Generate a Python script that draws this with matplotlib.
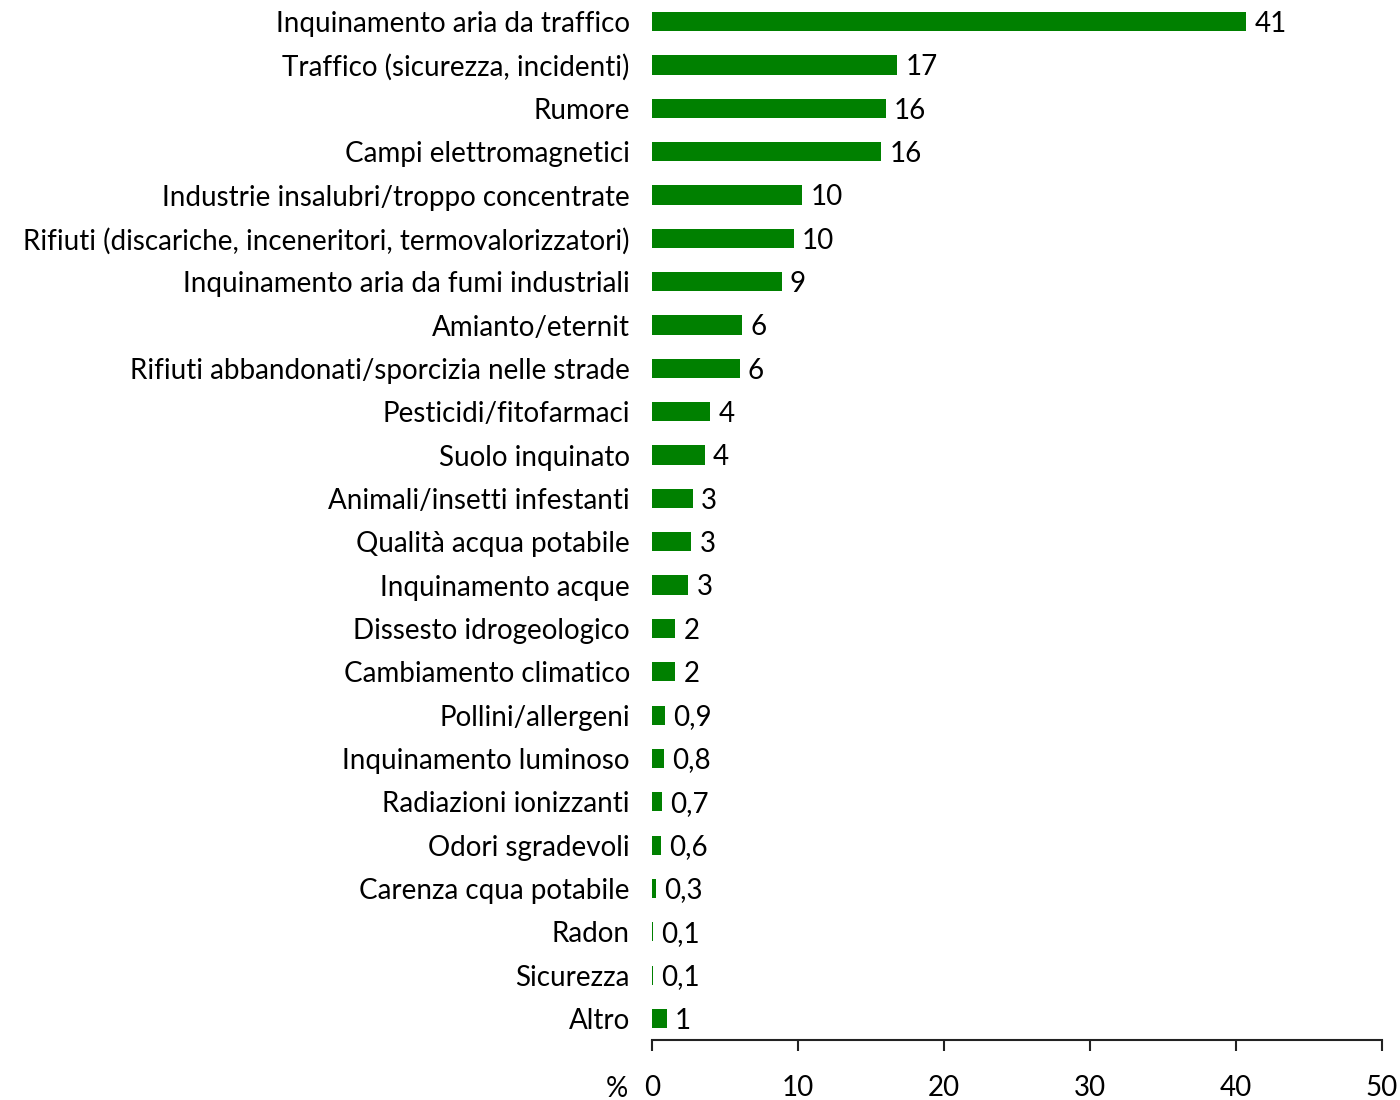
import matplotlib.pyplot as plt

categories = [
    "Inquinamento aria da traffico",
    "Traffico (sicurezza, incidenti)",
    "Rumore",
    "Campi elettromagnetici",
    "Industrie insalubri/troppo concentrate",
    "Rifiuti (discariche, inceneritori, termovalorizzatori)",
    "Inquinamento aria da fumi industriali",
    "Amianto/eternit",
    "Rifiuti abbandonati/sporcizia nelle strade",
    "Pesticidi/fitofarmaci",
    "Suolo inquinato",
    "Animali/insetti infestanti",
    "Qualità acqua potabile",
    "Inquinamento acque",
    "Dissesto idrogeologico",
    "Cambiamento climatico",
    "Pollini/allergeni",
    "Inquinamento luminoso",
    "Radiazioni ionizzanti",
    "Odori sgradevoli",
    "Carenza cqua potabile",
    "Radon",
    "Sicurezza",
    "Altro",
]
values = [40.7, 16.8, 16.0, 15.7, 10.3, 9.7, 8.9, 6.2, 6.0, 4.0, 3.6, 2.8,
          2.7, 2.5, 1.6, 1.6, 0.9, 0.8, 0.7, 0.6, 0.3, 0.1, 0.1, 1.0]
value_labels = ["41", "17", "16", "16", "10", "10", "9", "6", "6", "4", "4", "3",
                "3", "3", "2", "2", "0,9", "0,8", "0,7", "0,6", "0,3", "0,1", "0,1", "1"]
xticks = [0, 10, 20, 30, 40, 50]

plt.rcParams["font.family"] = ["Lato", "DejaVu Sans"]
FS = 20

fig = plt.figure(figsize=(14, 11), dpi=100)
ax = fig.add_axes([0.4657, 0.0545, 0.5214, 0.9455])

ypos = list(range(len(categories)))
ax.barh(ypos, values, height=0.44, color="#008000")
for y, v, lab in zip(ypos, values, value_labels):
    ax.text(v + 0.55, y + 0.05, lab, va="center", ha="left", fontsize=FS)

ax.set_ylim(len(categories) - 0.5, -0.5)
ax.set_xlim(0, 50)
ax.set_yticks(ypos)
ax.set_yticklabels(categories, fontsize=FS)
ax.tick_params(axis="y", length=0, pad=16)
ax.set_xticks(xticks)
ax.set_xticklabels([str(t) for t in xticks], fontsize=FS)
ax.tick_params(axis="x", length=8, width=1.5, pad=17, color="#222222")

for s in ["top", "right", "left"]:
    ax.spines[s].set_visible(False)
ax.spines["bottom"].set_linewidth(1.5)
ax.spines["bottom"].set_color("#222222")

ax.annotate("%", xy=(0, 0), xycoords="axes fraction", xytext=(-17, -35),
            textcoords="offset points", ha="right", va="center", fontsize=FS)

fig.savefig("out.png", dpi=100)
